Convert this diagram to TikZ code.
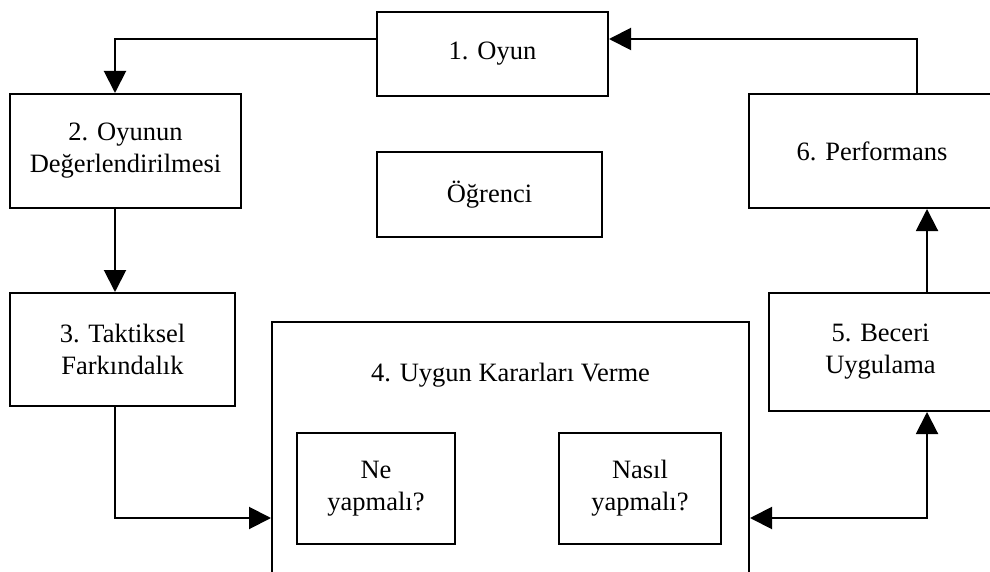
\documentclass[tikz,border=0pt]{standalone}
\usepackage{fontspec}
\setmainfont{Liberation Serif}
\usetikzlibrary{arrows.meta,positioning}

\begin{document}
\begin{tikzpicture}[
    x=1pt,y=-1pt,
    every node/.style={font=\fontsize{26.5}{32}\selectfont,align=center},
    box/.style={draw,line width=2pt,inner sep=0pt},
    arrow/.style={-{Triangle[length=22pt,width=22pt]},line width=2pt},
    twoway/.style={{Triangle[length=22pt,width=22pt]}-{Triangle[length=22pt,width=22pt]},line width=2pt}
]
\useasboundingbox (0,0) rectangle (990,572);
\clip (0,0) rectangle (990,572);
\node[box,minimum width=231pt,minimum height=84pt] (oyun) at (492.5,54) {1. Oyun};
\node[box,minimum width=231pt,minimum height=114pt] (deger) at (125.5,151) {2. Oyunun\\Değerlendirilmesi};
\node[box,minimum width=225pt,minimum height=85pt] (ogrenci) at (489.5,194.5) {Öğrenci};
\node[box,minimum width=246pt,minimum height=114pt] (perf) at (872,151) {6. Performans};
\node[box,minimum width=225pt,minimum height=113pt] (taktik) at (122.5,349.5) {3. Taktiksel\\Farkındalık};
\node[box,minimum width=223pt,minimum height=118pt] (beceri) at (880.5,352) {5. Beceri\\Uygulama};
\node[box,minimum width=477pt,minimum height=300pt,anchor=north] (karar) at (510.5,321) {};
\node[anchor=base] (kararlabel) at (510.5,381) {4. Uygun Kararları Verme};
\node[box,minimum width=158pt,minimum height=111pt] (ne) at (376,488.5) {Ne\\yapmalı?};
\node[box,minimum width=162pt,minimum height=111pt] (nasil) at (640,488.5) {Nasıl\\yapmalı?};
\coordinate (alt) at (0,518);
\draw[arrow] ([yshift=15pt]oyun.west) -| ([xshift=-10.5pt]deger.north);
\draw[arrow] ([xshift=-10.5pt]deger.south) -- ([xshift=-10.5pt]deger.south |- taktik.north);
\draw[arrow] ([xshift=-7.5pt]taktik.south) |- (karar.west |- alt);
\draw[twoway] (karar.east |- alt) -| ([xshift=46.5pt]beceri.south);
\draw[arrow] ([xshift=46.5pt]beceri.north) -- ([xshift=46.5pt]beceri.north |- perf.south);
\draw[arrow] ([xshift=45pt]perf.north) |- ([yshift=15pt]oyun.east);
\end{tikzpicture}
\end{document}
